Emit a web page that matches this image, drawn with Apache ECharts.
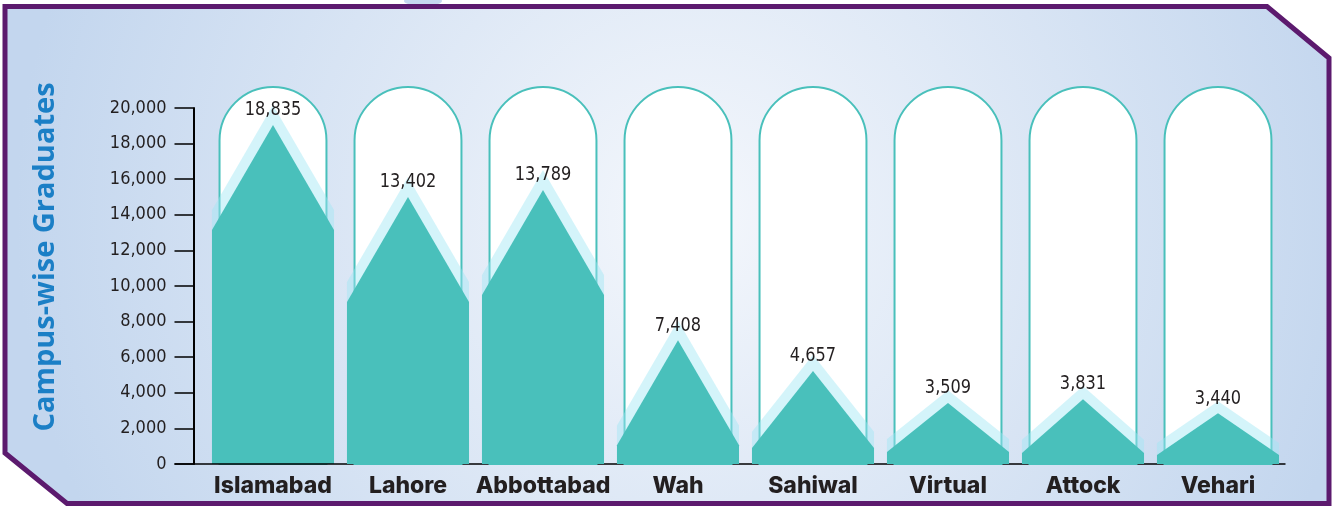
<!DOCTYPE html>
<html>
<head>
<meta charset="utf-8">
<script src="https://cdn.jsdelivr.net/npm/echarts@6/dist/echarts.min.js"></script>
<style>
html,body{margin:0;padding:0;background:#ffffff;}
#c{width:1332px;height:507px;}
</style>
</head>
<body>
<div id="c"></div>
<script>
// ---- data ----
const categories = ['Islamabad', 'Lahore', 'Abbottabad', 'Wah', 'Sahiwal', 'Virtual', 'Attock', 'Vehari'];
const graduates = [18835, 13402, 13789, 7408, 4657, 3509, 3831, 3440];
// drawn shape of each "mountain" bar
const shoulderHeights = [13150, 9100, 9500, 1050, 900, 680, 620, 500];
const peakHeights = [19050, 15000, 15400, 6950, 5230, 3420, 3640, 2850];
const yMin = 0;
const yMax = 20000;
const yStep = 2000;

const NUM_FONT = '"DejaVu Sans Condensed","Liberation Sans Narrow","Roboto",sans-serif';
const TEAL = '#49c0bb';
const HALO = 'rgba(160,231,243,0.45)';
const INK = '#231f20';

const chart = echarts.init(document.getElementById('c'), null, {renderer: 'canvas'});

function renderItem(params, api) {
  const i = params.dataIndex;
  const basePt = api.coord([i, 0]);
  const band = api.size([1, 0])[0];
  const xc = basePt[0];
  const yB = basePt[1];
  const yS = api.coord([i, api.value(1)])[1];
  const yP = api.coord([i, api.value(2)])[1];
  const yTop = api.coord([i, yMax])[1];
  const hw = band * 0.452;
  const x0 = xc - hw, x1 = xc + hw;
  const cw = band * 0.396;
  const capTop = yTop - 21;
  const t = 10;
  const slope = (yS - yP) / hw;
  const d = t * Math.sqrt(1 + slope * slope);
  const children = [
    {
      type: 'rect',
      shape: {x: xc - cw, y: capTop, width: cw * 2, height: yB - capTop, r: [cw, cw, 0, 0]},
      style: {fill: '#ffffff', stroke: TEAL, lineWidth: 2}
    },
    {
      type: 'polygon',
      shape: {points: [[x0, yS - d], [xc, yP - d], [x1, yS - d], [x1, yB], [x0, yB]]},
      style: {fill: HALO}
    },
    {
      type: 'polygon',
      shape: {points: [[x0, yS], [xc, yP], [x1, yS], [x1, yB], [x0, yB]]},
      style: {fill: TEAL}
    },
    {
      type: 'text',
      x: xc, y: yP - 15,
      scaleY: 1.12,
      style: {
        text: Number(api.value(3)).toLocaleString('en-US'),
        x: 0, y: 0,
        align: 'center', verticalAlign: 'middle',
        font: '18px ' + NUM_FONT,
        fill: INK
      }
    }
  ];
  if (i === 0) {
    // x baseline, extended left to meet the 0 tick of the offset y axis
    const left = xc - band / 2;
    children.push({
      type: 'line',
      shape: {x1: left - 12 - 19, y1: yB, x2: left + band * categories.length, y2: yB},
      style: {stroke: '#000', lineWidth: 1.5}
    });
  }
  return {type: 'group', children: children};
}

const option = {
  animation: false,
  backgroundColor: '#ffffff',
  grid: {left: 205.5, right: 46.5, top: 108, bottom: 43},
  xAxis: {
    type: 'category',
    data: categories,
    axisLine: {show: false},
    axisTick: {show: false},
    axisLabel: {
      interval: 0,
      hideOverlap: false,
      margin: 11,
      color: INK,
      fontFamily: 'Inter, "Open Sans", sans-serif',
      fontWeight: 800,
      fontSize: 23
    }
  },
  yAxis: {
    type: 'value',
    min: yMin, max: yMax, interval: yStep,
    offset: 12,
    axisLine: {show: true, lineStyle: {color: '#000', width: 2}},
    axisTick: {show: true, length: 19, lineStyle: {color: '#000', width: 1.5}},
    splitLine: {show: false},
    axisLabel: {
      margin: 27,
      color: INK,
      fontFamily: NUM_FONT,
      fontSize: 18,
      formatter: function (v) { return Number(v).toLocaleString('en-US'); }
    }
  },
  series: [{
    type: 'custom',
    renderItem: renderItem,
    clip: false,
    encode: {x: 0, y: 2},
    data: categories.map(function (c, i) { return [i, shoulderHeights[i], peakHeights[i], graduates[i]]; })
  }],
  graphic: [
    {
      type: 'ellipse', id: 'blob', z: -101,
      shape: {cx: 423, cy: 1, rx: 19, ry: 5},
      style: {fill: '#c6d8f0'}
    },
    {
      type: 'polygon', id: 'bg', z: -100,
      shape: {points: [[5, 6.5], [1267, 6.5], [1329, 58], [1329, 503.5], [67, 503.5], [5, 453]]},
      style: {
        fill: {type: 'radial', x: 0.52, y: 0.42, r: 1.35,
          colorStops: [{offset: 0, color: '#f4f7fc'}, {offset: 1, color: '#c3d6ee'}]},
        stroke: '#5c1a6e', lineWidth: 5
      }
    },
    {
      type: 'text', id: 'ytitle', z: 10,
      x: 46, y: 257, rotation: Math.PI / 2,
      style: {
        text: 'Campus-wise Graduates',
        align: 'center', verticalAlign: 'middle',
        font: 'bold 29px "Open Sans", "Noto Sans", sans-serif',
        fill: '#1b7fc6'
      }
    }
  ]
};
chart.setOption(option);
</script>
</body>
</html>
